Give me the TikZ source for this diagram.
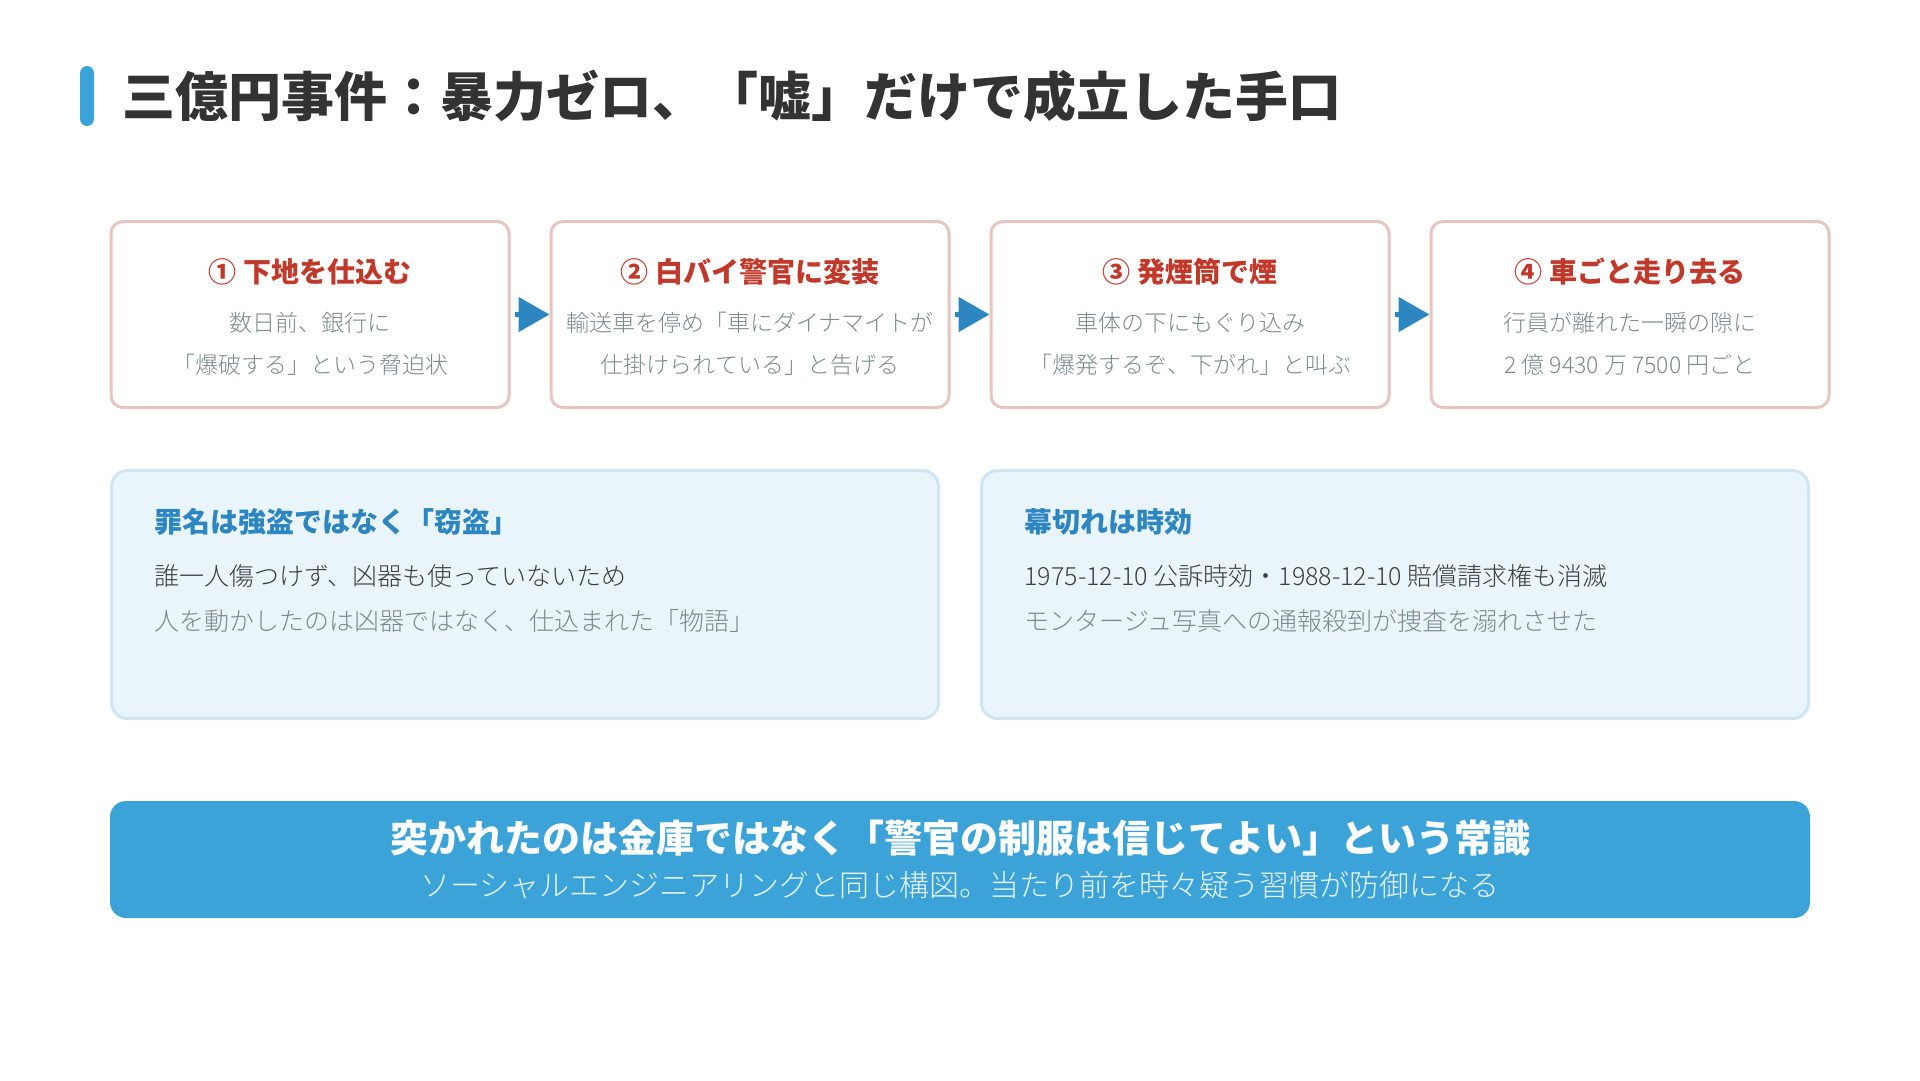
\documentclass[tikz,border=0pt]{standalone}
\usepackage{fontspec}
\setmainfont{Noto Sans CJK JP}
\IfFontExistsTF{Noto Sans CJK JP Light}{\newfontfamily\thinjp{Noto Sans CJK JP Light}}{\newfontfamily\thinjp{Noto Sans CJK JP}}
\usetikzlibrary{arrows.meta,positioning}

\definecolor{titlegray}{HTML}{333333}
\definecolor{barblue}{HTML}{3BA3D8}
\definecolor{stepline}{HTML}{E8C6C0}
\definecolor{stepred}{HTML}{C0392B}
\definecolor{bodygray}{HTML}{7B8A8B}
\definecolor{arrowblue}{HTML}{2E86C1}
\definecolor{infofill}{HTML}{EAF4FB}
\definecolor{infoline}{HTML}{D0E6F5}
\definecolor{darktext}{HTML}{3D3D3D}
\definecolor{subwhite}{HTML}{E8F4FA}

\tikzset{
	stepbox/.style={draw=stepline, line width=3pt, fill=white, rounded corners=12pt, minimum width=398pt, minimum height=186pt},
	steptitle/.style={font=\fontsize{28}{34}\selectfont\bfseries, text=stepred},
	stepbody/.style={font=\fontsize{23}{28}\selectfont\thinjp, text=bodygray},
	steparrow/.style={draw=arrowblue, line width=5pt, shorten <=4pt, -{Triangle[length=31pt,width=34pt]}},
	infobox/.style={draw=infoline, line width=3pt, fill=infofill, rounded corners=16pt, minimum width=827pt, minimum height=248pt},
	infohead/.style={font=\fontsize{28}{34}\selectfont\bfseries, text=arrowblue, anchor=west},
	infomain/.style={font=\fontsize{25}{30}\selectfont\thinjp, text=darktext, anchor=west},
	infosub/.style={font=\fontsize{25}{30}\selectfont\thinjp, text=bodygray, anchor=west}
}

\begin{document}
\begin{tikzpicture}[x=1pt,y=-1pt]
	\fill[white] (0,0) rectangle (1920,1080);
	
	% title
	\fill[barblue, rounded corners=7pt] (80,66) rectangle (94,126);
	\node[anchor=west, font=\fontsize{53}{60}\selectfont\bfseries, text=titlegray, inner sep=0pt] (title) at (122,96) {三億円事件：暴力ゼロ、「嘘」だけで成立した手口};
	
	% four steps
	\node[stepbox] (s1) at (310,314.5) {};
	\node[stepbox] (s2) at (750,314.5) {};
	\node[stepbox] (s3) at (1190,314.5) {};
	\node[stepbox] (s4) at (1630,314.5) {};
	
	\node[steptitle] (s1a) at ([yshift=-52pt]s1.north) {① 下地を仕込む};
	\node[stepbody] (s1b) at ([yshift=-103pt]s1.north) {数日前、銀行に};
	\node[stepbody] (s1c) at ([yshift=-145pt]s1.north) {「爆破する」という脅迫状};
	
	\node[steptitle] (s2a) at ([yshift=-52pt]s2.north) {② 白バイ警官に変装};
	\node[stepbody] (s2b) at ([yshift=-103pt]s2.north) {輸送車を停め「車にダイナマイトが};
	\node[stepbody] (s2c) at ([yshift=-145pt]s2.north) {仕掛けられている」と告げる};
	
	\node[steptitle] (s3a) at ([yshift=-52pt]s3.north) {③ 発煙筒で煙};
	\node[stepbody] (s3b) at ([yshift=-103pt]s3.north) {車体の下にもぐり込み};
	\node[stepbody] (s3c) at ([yshift=-145pt]s3.north) {「爆発するぞ、下がれ」と叫ぶ};
	
	\node[steptitle] (s4a) at ([yshift=-52pt]s4.north) {④ 車ごと走り去る};
	\node[stepbody] (s4b) at ([yshift=-103pt]s4.north) {行員が離れた一瞬の隙に};
	\node[stepbody] (s4c) at ([yshift=-145pt]s4.north) {2 億 9430 万 7500 円ごと};
	
	\draw[steparrow] (s1.east) -- (s2.west);
	\draw[steparrow] (s2.east) -- (s3.west);
	\draw[steparrow] (s3.east) -- (s4.west);
	
	% two notes
	\node[infobox] (nA) at (525,594.5) {};
	\node[infobox] (nB) at (1395,594.5) {};
	
	\node[infohead] (nAa) at ([xshift=41pt,yshift=-53pt]nA.north west) {罪名は強盗ではなく「窃盗」};
	\node[infomain] (nAb) at ([xshift=41pt,yshift=-107pt]nA.north west) {誰一人傷つけず、凶器も使っていないため};
	\node[infosub] (nAc) at ([xshift=41pt,yshift=-152pt]nA.north west) {人を動かしたのは凶器ではなく、仕込まれた「物語」};
	
	\node[infohead] (nBa) at ([xshift=41pt,yshift=-53pt]nB.north west) {幕切れは時効};
	\node[infomain] (nBb) at ([xshift=41pt,yshift=-107pt]nB.north west) {1975-12-10 公訴時効・1988-12-10 賠償請求権も消滅};
	\node[infosub] (nBc) at ([xshift=41pt,yshift=-152pt]nB.north west) {モンタージュ写真への通報殺到が捜査を溺れさせた};
	
	% banner
	\node[fill=barblue, rounded corners=16pt, minimum width=1700pt, minimum height=117pt] (band) at (960,859.5) {};
	\node[font=\fontsize{38}{44}\selectfont\bfseries, text=white] (bandA) at (960,838) {突かれたのは金庫ではなく「警官の制服は信じてよい」という常識};
	\node[font=\fontsize{30}{36}\selectfont\thinjp, text=subwhite] (bandB) at (960,885) {ソーシャルエンジニアリングと同じ構図。当たり前を時々疑う習慣が防御になる};
\end{tikzpicture}
\end{document}
